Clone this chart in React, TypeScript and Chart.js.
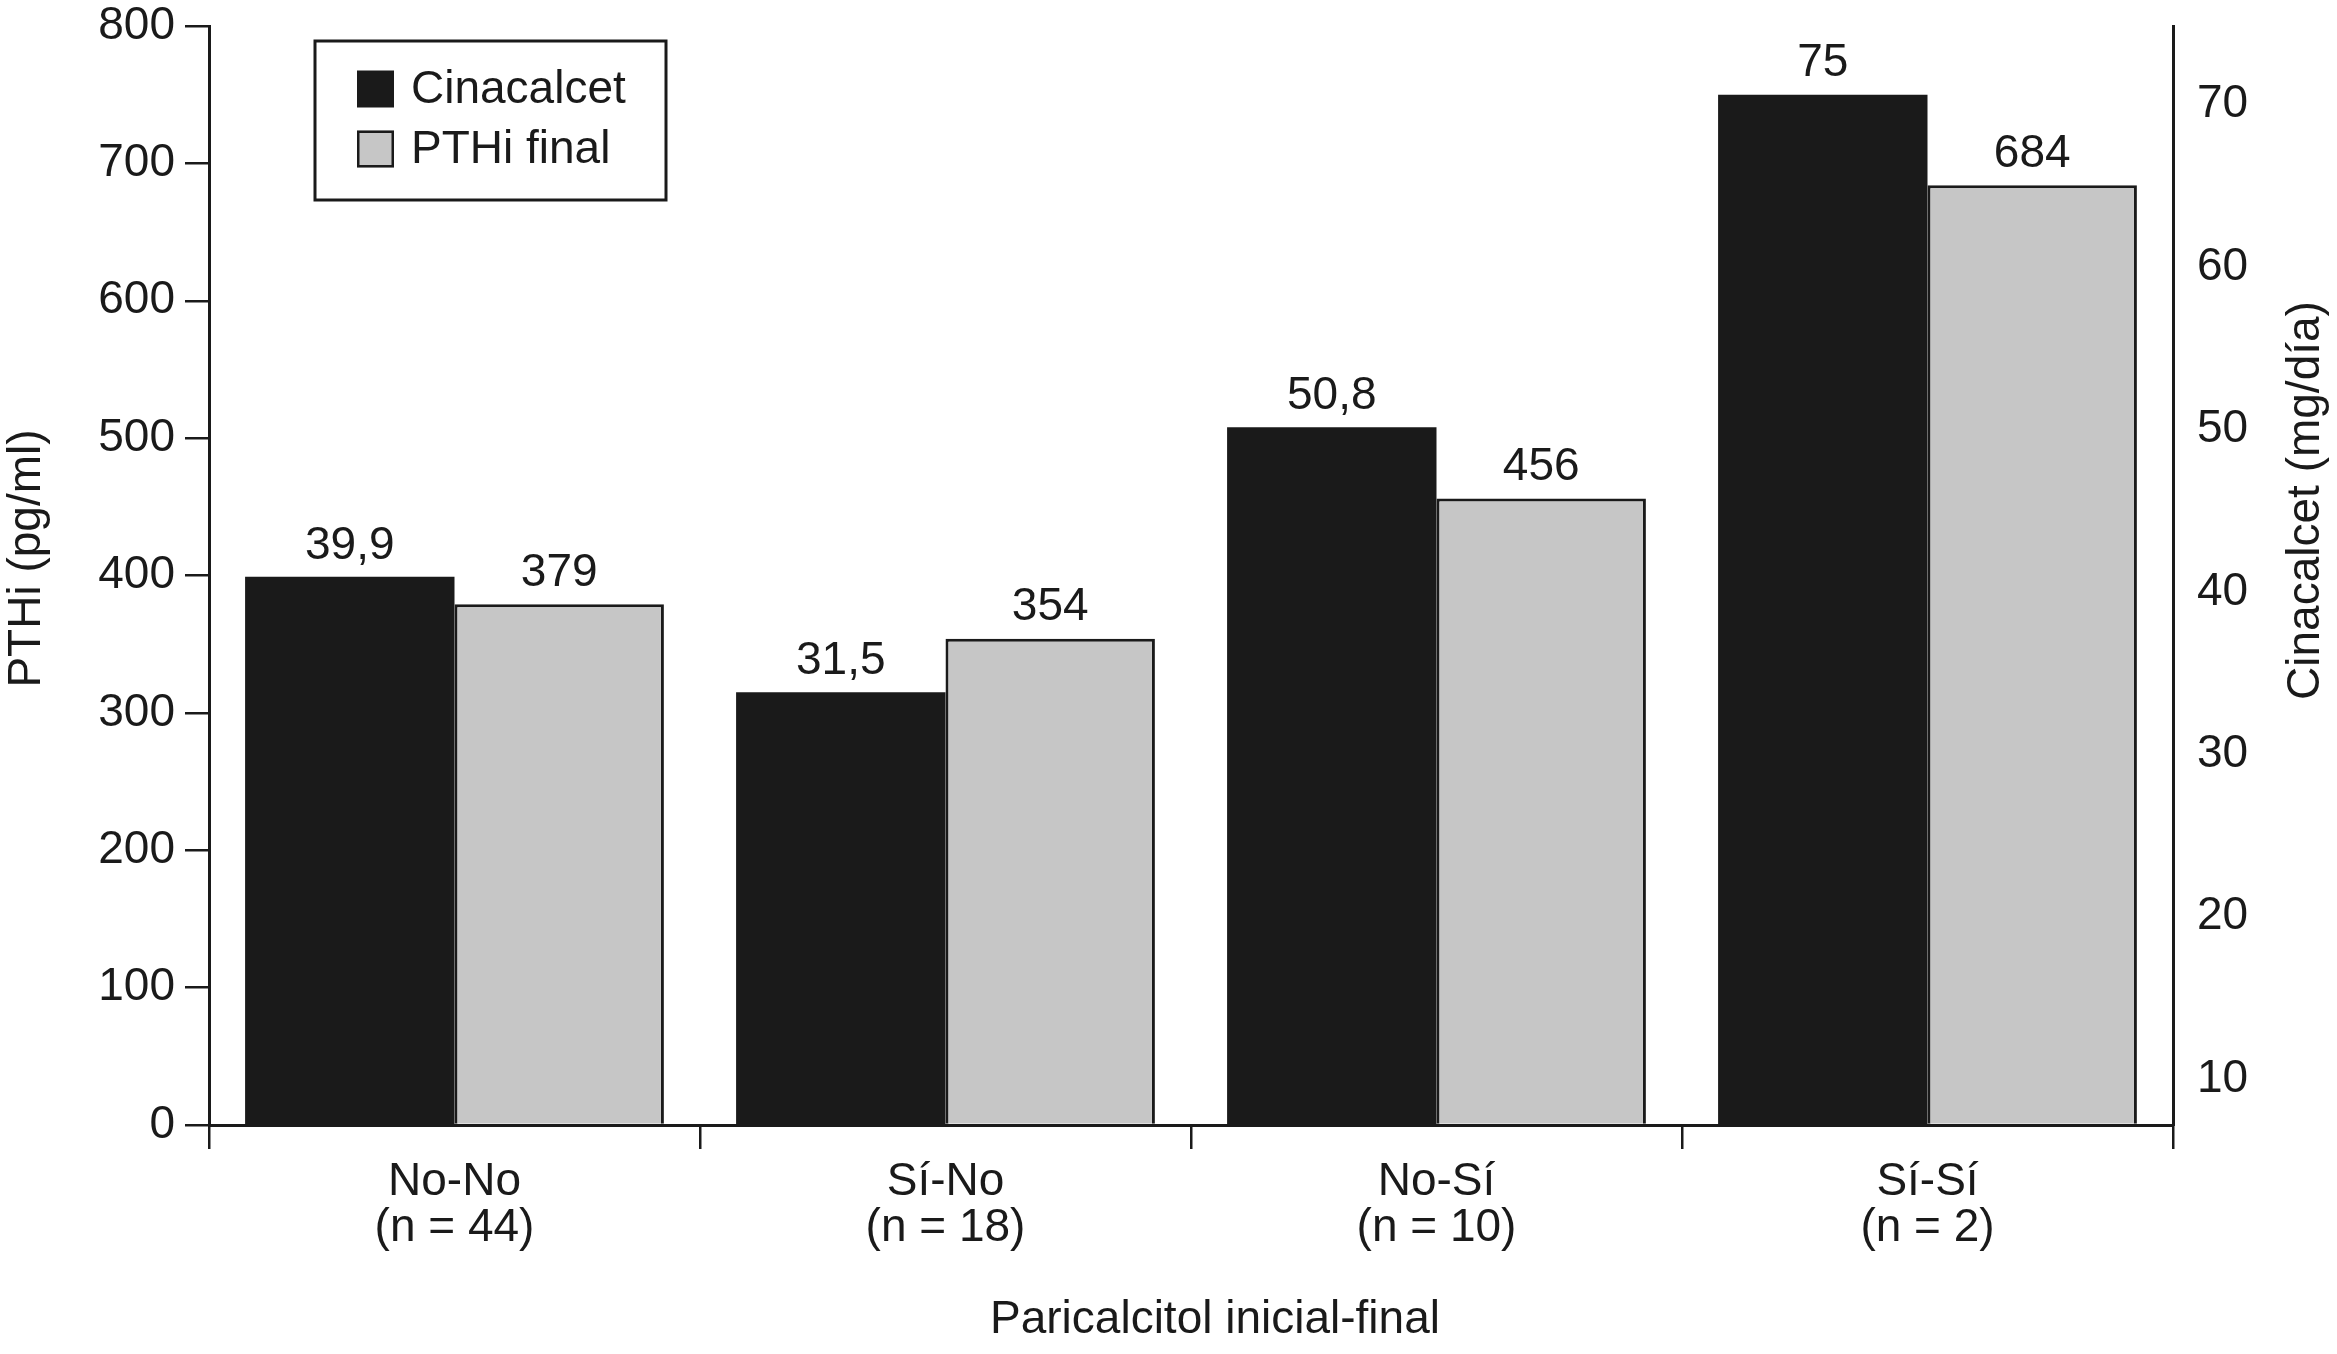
import React, { useEffect, useRef } from 'react';
import { Chart, registerables } from 'chart.js';

Chart.register(...registerables);

const categories = [
  ['No-No', '(n = 44)'],
  ['Sí-No', '(n = 18)'],
  ['No-Sí', '(n = 10)'],
  ['Sí-Sí', '(n = 2)'],
];
const seriesNames = ['Cinacalcet', 'PTHi final'];
const cinacalcet = [39.9, 31.5, 50.8, 75];
const pthiFinal = [379, 354, 456, 684];
const leftTicks = [0, 100, 200, 300, 400, 500, 600, 700, 800];
const rightTicks = [10, 20, 30, 40, 50, 60, 70];
const leftTitle = 'PTHi (pg/ml)';
const rightTitle = 'Cinacalcet (mg/día)';
const xTitle = 'Paricalcitol inicial-final';

const FONT = "'Liberation Sans', Arial, Helvetica, sans-serif";
const INK = '#1a1a1a';
const BLACK_BAR = '#1a1a1a';
const GRAY_BAR = '#c6c6c6';

const fmt = (v: number) => String(v).replace('.', ',');

const overlay = {
  id: 'overlay',
  afterDatasetsDraw(chart: any) {
    const ctx = chart.ctx as CanvasRenderingContext2D;
    const { left, top, right, bottom } = chart.chartArea;
    ctx.save();
    ctx.fillStyle = INK;
    ctx.font = `46px ${FONT}`;
    ctx.textAlign = 'center';
    ctx.textBaseline = 'middle';
    chart.data.datasets.forEach((ds: any, di: number) => {
      const meta = chart.getDatasetMeta(di);
      meta.data.forEach((bar: any, i: number) => {
        ctx.fillText(fmt(ds.data[i]), bar.x, bar.y - 31);
      });
    });

    // legend box
    const bx = left + 106;
    const by = top + 15;
    const bw = 351;
    const bh = 159;
    ctx.lineWidth = 3;
    ctx.strokeStyle = INK;
    ctx.strokeRect(bx, by, bw, bh);
    const colors = [BLACK_BAR, GRAY_BAR];
    ctx.textAlign = 'left';
    seriesNames.forEach((name, i) => {
      const cy = by + 48 + i * 60;
      const sx = bx + 42;
      const sz = 37;
      ctx.fillStyle = colors[i];
      ctx.fillRect(sx, cy - sz / 2, sz, sz);
      if (i === 1) {
        ctx.lineWidth = 2.5;
        ctx.strokeStyle = INK;
        ctx.strokeRect(sx + 1.25, cy - sz / 2 + 1.25, sz - 2.5, sz - 2.5);
      }
      ctx.fillStyle = INK;
      ctx.fillText(name, bx + 96, cy + 1);
    });

    // axis titles
    ctx.textAlign = 'center';
    ctx.textBaseline = 'middle';
    ctx.save();
    ctx.translate(left - 182, (top + bottom) / 2 - 17);
    ctx.rotate(-Math.PI / 2);
    ctx.fillText(leftTitle, 0, 0);
    ctx.restore();

    ctx.save();
    ctx.translate(right + 133, (top + bottom) / 2 - 75);
    ctx.rotate(-Math.PI / 2);
    ctx.fillText(rightTitle, 0, 0);
    ctx.restore();

    ctx.fillText(xTitle, (left + right) / 2 + 24, bottom + 195);
    ctx.restore();
  },
};

export default function App() {
  const ref = useRef<HTMLCanvasElement | null>(null);

  useEffect(() => {
    if (!ref.current) return;
    const tickFont = { family: FONT, size: 46 };
    const chart = new Chart(ref.current, {
      type: 'bar',
      data: {
        labels: categories as any,
        datasets: [
          {
            label: seriesNames[0],
            data: cinacalcet,
            yAxisID: 'yCin',
            backgroundColor: BLACK_BAR,
            borderColor: BLACK_BAR,
            borderWidth: 0,
          },
          {
            label: seriesNames[1],
            data: pthiFinal,
            yAxisID: 'y',
            backgroundColor: GRAY_BAR,
            borderColor: INK,
            borderWidth: 3,
          },
        ],
      },
      options: {
        animation: false,
        responsive: false,
        devicePixelRatio: 1,
        layout: { padding: { top: 26, left: 0, right: 0, bottom: 0 } },
        datasets: { bar: { categoryPercentage: 0.853, barPercentage: 1 } },
        plugins: { legend: { display: false }, tooltip: { enabled: false } },
        scales: {
          x: {
            type: 'category',
            offset: true,
            grid: {
              offset: true,
              drawOnChartArea: false,
              drawTicks: true,
              tickLength: 24,
              color: INK,
              lineWidth: 2.5,
            },
            border: { display: true, color: INK, width: 3 },
            ticks: {
              font: { ...tickFont, lineHeight: 1.0 },
              color: INK,
              padding: 10,
              maxRotation: 0,
              autoSkip: false,
            },
            afterFit: (s: any) => {
              s.height = 229;
              s.paddingLeft = 0;
              s.paddingRight = 0;
            },
          },
          y: {
            position: 'left',
            min: 0,
            max: 800,
            afterBuildTicks: (ax: any) => {
              ax.ticks = leftTicks.map((v) => ({ value: v }));
            },
            grid: { drawOnChartArea: false, drawTicks: true, tickLength: 24, color: INK, lineWidth: 2.5 },
            border: { display: true, color: INK, width: 3 },
            ticks: { font: tickFont, color: INK, padding: 10 },
            afterFit: (s: any) => {
              s.width = 209;
              s.paddingTop = 0;
              s.paddingBottom = 0;
            },
          },
          yCin: {
            position: 'right',
            display: false,
            min: 0,
            max: 80,
          },
          yR: {
            position: 'right',
            min: 7.17,
            max: 74.85,
            afterBuildTicks: (ax: any) => {
              ax.ticks = rightTicks.map((v) => ({ value: v }));
            },
            grid: { drawOnChartArea: false, drawTicks: false },
            border: { display: true, color: INK, width: 3 },
            ticks: { font: tickFont, color: INK, padding: 24 },
            afterFit: (s: any) => {
              s.width = 164;
              s.paddingTop = 0;
              s.paddingBottom = 0;
            },
          },
        },
      } as any,
      plugins: [overlay],
    });
    return () => chart.destroy();
  }, []);

  return (
    <div style={{ position: 'absolute', left: 0, top: 0, width: 2337, height: 1354, background: '#fff' }}>
      <canvas ref={ref} width={2337} height={1354} />
    </div>
  );
}
